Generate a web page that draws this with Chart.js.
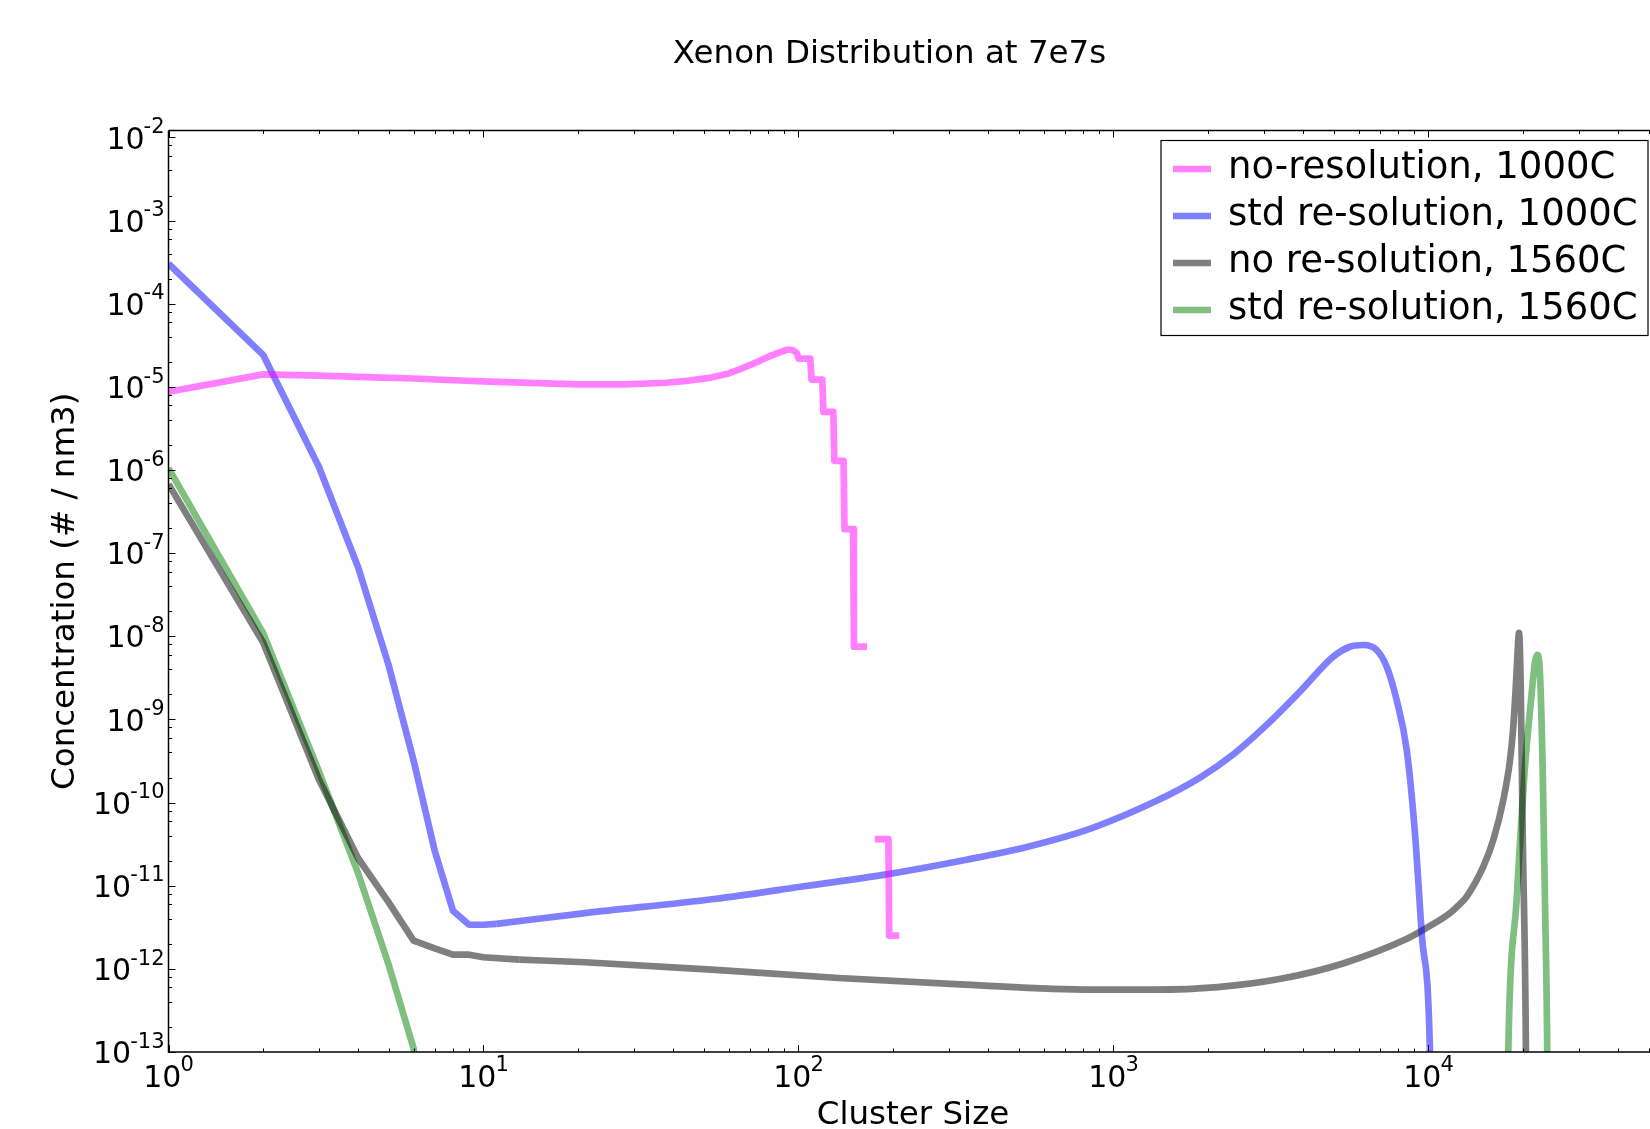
<!DOCTYPE html>
<html>
<head>
<meta charset="utf-8">
<script src="https://cdn.jsdelivr.net/npm/chart.js@4.4.1/dist/chart.umd.min.js"></script>
<style>
  html, body { margin: 0; padding: 0; background: #fff; overflow: hidden; }
  #wrap { width: 1650px; height: 1129px; }
</style>
</head>
<body>
<div id="wrap"><canvas id="xenonChart" width="1650" height="1129"></canvas></div>
<script>
//================================ data ================================

// no-resolution, 1000C (magenta)
var noRes1000X = [1, 2, 3, 4, 6, 8, 11, 15, 20, 28, 38, 45, 52, 60, 65, 70, 75, 80, 87, 92, 95, 97, 99,
    100, 109, 110, 119, 120, 129, 130, 139, 140, 149, 150, 161, 165, 179, 193, 194, 204];
var noRes1000Y = [8.71e-6, 1.41e-5, 1.36e-5, 1.32e-5, 1.26e-5, 1.20e-5, 1.15e-5, 1.11e-5, 1.07e-5, 1.07e-5,
    1.12e-5, 1.19e-5, 1.28e-5, 1.45e-5, 1.62e-5, 1.82e-5, 2.04e-5, 2.29e-5, 2.60e-5, 2.79e-5, 2.79e-5, 2.69e-5, 2.51e-5,
    2.18e-5, 2.18e-5, 1.22e-5, 1.22e-5, 4.99e-6, 4.99e-6, 1.29e-6, 1.29e-6, 1.94e-7, 1.94e-7, 7.5e-9, 7.5e-9,
    null, 3.63e-11, 3.63e-11, 2.51e-12, 2.51e-12];

// std re-solution, 1000C (blue)
var stdRes1000X = [1, 2, 3, 4, 5, 6, 7, 8, 9, 10, 11, 21, 54, 107, 186, 338, 535, 850, 1349, 1882, 2401,
    3064, 3909, 4987, 5634, 6209, 6848, 7368, 7925, 8530, 9060, 9515, 10110, 10400];
var stdRes1000Y = [3.02e-4, 2.40e-5, 1.10e-6, 6.76e-8, 4.47e-9, 3.20e-10, 2.63e-11, 5.01e-12, 3.39e-12, 3.39e-12,
    3.47e-12, 4.68e-12, 6.92e-12, 1.00e-11, 1.35e-11, 2.04e-11, 2.95e-11, 4.90e-11, 1.02e-10, 2.00e-10, 3.80e-10,
    8.59e-10, 2.16e-9, 5.68e-9, 7.48e-9, 7.85e-9, 6.84e-9, 4.31e-9, 1.71e-9, 4.30e-10, 4.27e-11, 2.69e-12, 1.0e-13, 1e-16];

// no re-solution, 1560C (grey)
var noRes1560X = [1, 2, 3, 4, 5, 6, 7, 8, 9, 10, 13, 21, 53, 134, 338, 850, 1349, 2141, 3395, 5384,
    8545, 9627, 11700, 12590, 13220, 14930, 16060, 17280, 18150, 18590, 18960, 19200, 19380, 19620, 19910, 20390, 20600];
var noRes1560Y = [6.76e-7, 8.32e-9, 1.91e-10, 2.14e-11, 6.31e-12, 2.19e-12, 1.76e-12, 1.48e-12, 1.48e-12, 1.38e-12,
    1.29e-12, 1.20e-12, 9.77e-13, 7.76e-13, 6.46e-13, 5.62e-13, 5.62e-13, 6.03e-13, 7.59e-13, 1.17e-12,
    2.30e-12, 2.95e-12, 4.68e-12, 6.03e-12, 7.41e-12, 1.70e-11, 3.55e-11, 1.07e-10, 3.24e-10, 8.13e-10, 2.72e-9,
    6.84e-9, 1.10e-8, 2.75e-9, 4.37e-11, 1.0e-13, 1e-16];

// std re-solution, 1560C (green)
var stdRes1560X = [1, 2, 3, 4, 5, 6, 7, 17500, 17920, 19050, 20250, 21260, 21780, 22150, 22590, 23040,
    23430, 23830, 24100];
var stdRes1560Y = [1.05e-6, 1.08e-8, 2.40e-10, 1.41e-11, 1.12e-12, 1.10e-13, 1e-16, 1e-16, 1.0e-13,
    6.76e-12, 2.69e-10, 2.04e-9, 4.90e-9, 5.96e-9, 3.59e-9, 2.69e-10, 6.76e-12, 1.0e-13, 1e-16];

var seriesLabels = ['no-resolution, 1000C', 'std re-solution, 1000C', 'no re-solution, 1560C', 'std re-solution, 1560C'];
var seriesColors = ['rgba(255,0,255,0.5)', 'rgba(0,0,255,0.5)', 'rgba(0,0,0,0.5)', 'rgba(0,128,0,0.5)'];
// index where each run turns from straight steps into a smooth curve (-1: all straight)
var smoothFrom = [-1, 10, 10, 7];
// green jumps from the small sizes straight to the big peak, no shared point there
var smoothShared = [false, true, true, false];

// tick labels are powers of ten
var xTickPowers = [0, 1, 2, 3, 4];
var yTickPowers = [-2, -3, -4, -5, -6, -7, -8, -9, -10, -11, -12, -13];

//================================ helpers ================================

function toPoints(xs, ys) {
    return xs.map(function(v, i) {
        return { x: v, y: ys[i] };
    });
}

var FONT = '"DejaVu Sans", "Liberation Sans", sans-serif';

function drawPower(ctx, exp, x, baseline, align) {
    ctx.font = '30px ' + FONT;
    var wBase = ctx.measureText('10').width;
    ctx.font = '21px ' + FONT;
    var wExp = ctx.measureText(exp).width;
    var total = wBase + wExp - 1;
    var left = align === 'right' ? x - total : x - total / 2;
    ctx.textAlign = 'left';
    ctx.textBaseline = 'alphabetic';
    ctx.font = '30px ' + FONT;
    ctx.fillText('10', left, baseline);
    ctx.font = '21px ' + FONT;
    ctx.fillText(exp, left + wBase - 1, baseline - 15.5);
}

//================================ axes, labels, legend ================================

var decor = {
    id: 'decor',
    afterDraw: function(chart) {
        var ctx = chart.ctx;
        var xs = chart.scales.x, ys = chart.scales.y;
        var a = chart.chartArea;
        ctx.save();
        ctx.fillStyle = '#000';
        ctx.strokeStyle = '#000';

        // spines
        ctx.lineWidth = 1.5;
        ctx.beginPath();
        ctx.moveTo(a.left, a.top);
        ctx.lineTo(a.left, a.bottom);
        ctx.lineTo(a.right, a.bottom);
        ctx.moveTo(a.left, a.top);
        ctx.lineTo(a.right, a.top);
        ctx.stroke();

        // inward ticks
        ctx.lineWidth = 1;
        ctx.beginPath();
        var d, s, v, p, len;
        for (d = 0; d <= 4; d++) {
            for (s = 1; s <= 9; s++) {
                v = s * Math.pow(10, d);
                if (v > xs.max) continue;
                p = Math.round(xs.getPixelForValue(v)) + 0.5;
                len = s === 1 ? 7 : 3.5;
                ctx.moveTo(p, a.bottom); ctx.lineTo(p, a.bottom - len);
                ctx.moveTo(p, a.top); ctx.lineTo(p, a.top + len);
            }
        }
        var ySubs = [1, 2, 4, 6, 8];
        for (d = -13; d <= -2; d++) {
            ySubs.forEach(function(sub) {
                var val = sub * Math.pow(10, d);
                if (val > ys.max) return;
                var py = Math.round(ys.getPixelForValue(val)) + 0.5;
                var l = sub === 1 ? 7 : 3.5;
                ctx.moveTo(a.left, py); ctx.lineTo(a.left + l, py);
            });
        }
        ctx.stroke();

        // tick labels
        xTickPowers.forEach(function(e) {
            var px = xs.getPixelForValue(Math.pow(10, e));
            drawPower(ctx, String(e), px, 1086.5, 'center');
        });
        yTickPowers.forEach(function(e) {
            var py = ys.getPixelForValue(Math.pow(10, e));
            drawPower(ctx, String(e), a.left - 4, py + 11.2, 'right');
        });

        // title and axis labels
        ctx.font = '32.5px ' + FONT;
        ctx.textAlign = 'center';
        ctx.textBaseline = 'alphabetic';
        ctx.fillText('Xenon Distribution at 7e7s', 889.5, 63);
        ctx.fillText('Cluster Size', 913, 1124);
        ctx.save();
        ctx.translate(74, (a.top + a.bottom) / 2);
        ctx.rotate(-Math.PI / 2);
        ctx.fillText('Concentration (# / nm3)', 0, 0);
        ctx.restore();

        // legend
        var bx = 1161, by = 140.5, bw = 487, bh = 195;
        ctx.fillStyle = '#fff';
        ctx.fillRect(bx, by, bw, bh);
        ctx.lineWidth = 1.2;
        ctx.strokeStyle = '#000';
        ctx.strokeRect(bx, by, bw, bh);
        ctx.font = '37px ' + FONT;
        ctx.textAlign = 'left';
        seriesLabels.forEach(function(lbl, i) {
            var ry = 169 + i * 47;
            ctx.strokeStyle = seriesColors[i];
            ctx.lineWidth = 6.7;
            ctx.lineCap = 'butt';
            ctx.beginPath();
            ctx.moveTo(1173, ry);
            ctx.lineTo(1211, ry);
            ctx.stroke();
            ctx.fillStyle = '#000';
            ctx.fillText(lbl, 1228, ry + 8.5);
        });
        ctx.restore();
    }
};

//================================ chart ================================

var allX = [noRes1000X, stdRes1000X, noRes1560X, stdRes1560X];
var allY = [noRes1000Y, stdRes1000Y, noRes1560Y, stdRes1560Y];

function lineSet(lbl, pts, color, smooth, cap) {
    return {
        label: lbl,
        data: pts,
        borderColor: color,
        backgroundColor: color,
        borderWidth: 6.7,
        borderCapStyle: cap,
        borderJoinStyle: 'round',
        pointRadius: 0,
        tension: 0,
        cubicInterpolationMode: smooth ? 'monotone' : 'default',
        fill: false,
        spanGaps: false,
        clip: 0
    };
}

var datasets = [];
seriesLabels.forEach(function(lbl, i) {
    var pts = toPoints(allX[i], allY[i]);
    var k = smoothFrom[i];
    if (k < 0) {
        datasets.push(lineSet(lbl, pts, seriesColors[i], false, 'square'));
        return;
    }
    // straight part for the small sizes, smooth part for the rest
    datasets.push(lineSet(lbl, pts.slice(0, smoothShared[i] ? k + 1 : k), seriesColors[i], false, 'butt'));
    datasets.push(lineSet(lbl, pts.slice(k), seriesColors[i], true, 'butt'));
});

var chrt = document.getElementById('xenonChart').getContext('2d');
var xenonChart = new Chart(chrt, {
    type: 'line',
    data: { datasets: datasets },
    options: {
        responsive: false,
        animation: false,
        devicePixelRatio: 1,
        layout: { padding: { left: 168.5, top: 130.5, right: 0, bottom: 77 } },
        plugins: {
            legend: { display: false },
            title: { display: false },
            tooltip: { enabled: false }
        },
        scales: {
            x: { type: 'logarithmic', display: false, min: 1, max: 50500 },
            y: { type: 'logarithmic', display: false, min: 1e-13, max: 0.0121 }
        }
    },
    plugins: [decor]
});
</script>
</body>
</html>
